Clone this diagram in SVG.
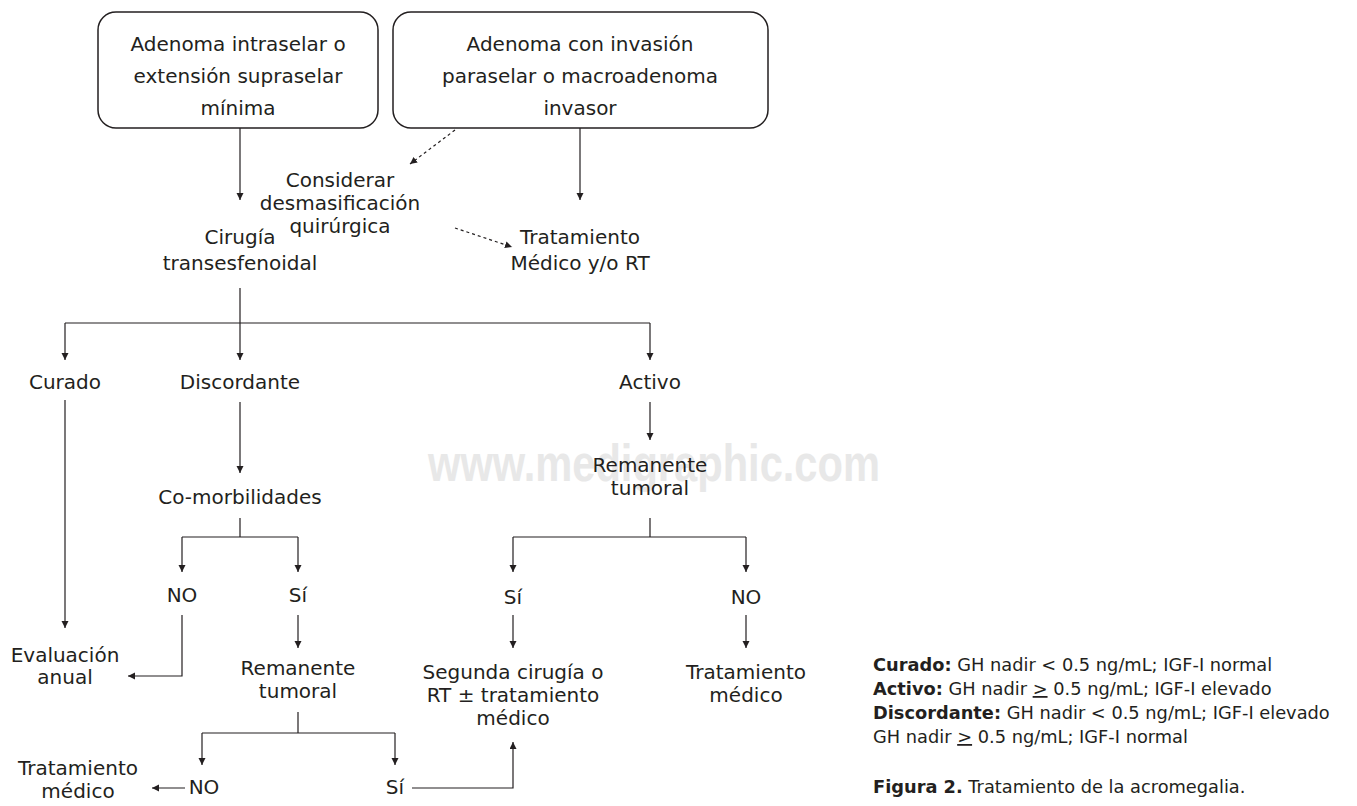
<svg xmlns="http://www.w3.org/2000/svg" width="1357" height="806" viewBox="0 0 1357 806">
<defs>
<marker id="ah" markerWidth="8" markerHeight="8" refX="7" refY="3.5" orient="auto" markerUnits="userSpaceOnUse"><path d="M0,0 L7,3.5 L0,7 z" fill="#231f20"/></marker>
<style>
.t{font-family:"DejaVu Sans","Liberation Sans",sans-serif;font-size:20px;fill:#231f20;text-anchor:middle}
.lg{font-family:"DejaVu Sans","Liberation Sans",sans-serif;font-size:17.8px;fill:#231f20}
.b{font-weight:bold}
.box{fill:#fff;stroke:#231f20;stroke-width:1.5}
.c{fill:none;stroke:#231f20;stroke-width:1.2}
.ca{fill:none;stroke:#231f20;stroke-width:1.2;marker-end:url(#ah)}
.d{fill:none;stroke:#231f20;stroke-width:1.2;stroke-dasharray:3,3;marker-end:url(#ah)}
</style>
</defs>
<rect width="1357" height="806" fill="#fff"/>
<text x="654" y="481" font-family="'Liberation Sans',Arial,sans-serif" font-weight="bold" font-size="52" fill="#e8e8e8" text-anchor="middle" textLength="452" lengthAdjust="spacingAndGlyphs">www.medigraphic.com</text>
<g id="connectors">
<path class="ca" d="M240,128 V200"/>
<path class="ca" d="M580,128 V200"/>
<path class="d" d="M455,130 L410,164"/>
<path class="d" d="M455,228 L512,247"/>
<path class="c" d="M240,288 V323 M65,323 H650"/>
<path class="ca" d="M65,323 V360"/>
<path class="ca" d="M240,323 V360"/>
<path class="ca" d="M650,323 V360"/>
<path class="ca" d="M65,400 V628"/>
<path class="ca" d="M240,402 V473"/>
<path class="c" d="M240,518 V537 M182,537 H298"/>
<path class="ca" d="M182,537 V572"/>
<path class="ca" d="M298,537 V572"/>
<path class="ca" d="M650,402 V440"/>
<path class="c" d="M650,518 V537 M513,537 H746"/>
<path class="ca" d="M513,537 V572"/>
<path class="ca" d="M746,537 V572"/>
<path class="ca" d="M182,615 V676 H128"/>
<path class="ca" d="M298,615 V648"/>
<path class="ca" d="M513,615 V648"/>
<path class="ca" d="M746,615 V648"/>
<path class="c" d="M298,712 V733 M202,733 H395"/>
<path class="ca" d="M202,733 V765"/>
<path class="ca" d="M395,733 V765"/>
<path class="ca" d="M185,788 H152"/>
<path class="ca" d="M412,788 H513 V742"/>
</g>
<g id="n-intraselar">
<rect class="box" x="98" y="12" width="280" height="116" rx="18"/>
<text class="t" x="238" y="51">Adenoma intraselar o</text>
<text class="t" x="238" y="83">extensión supraselar</text>
<text class="t" x="238" y="115">mínima</text>
</g>
<g id="n-invasion">
<rect class="box" x="393" y="12" width="375" height="116" rx="18"/>
<text class="t" x="580" y="51">Adenoma con invasión</text>
<text class="t" x="580" y="83">paraselar o macroadenoma</text>
<text class="t" x="580" y="115">invasor</text>
</g>
<g id="n-considerar">
<text class="t" x="340" y="187">Considerar</text>
<text class="t" x="340" y="210">desmasificación</text>
<text class="t" x="340" y="233">quirúrgica</text>
</g>
<g id="n-cirugia">
<text class="t" x="240" y="244">Cirugía</text>
<text class="t" x="240" y="270">transesfenoidal</text>
</g>
<g id="n-tratmed">
<text class="t" x="580" y="244">Tratamiento</text>
<text class="t" x="580" y="270">Médico y/o RT</text>
</g>
<g id="n-curado"><text class="t" x="65" y="389">Curado</text></g>
<g id="n-discordante"><text class="t" x="240" y="389">Discordante</text></g>
<g id="n-activo"><text class="t" x="650" y="389">Activo</text></g>
<g id="n-comorb"><text class="t" x="240" y="504">Co-morbilidades</text></g>
<g id="n-remanente1">
<text class="t" x="650" y="472">Remanente</text>
<text class="t" x="650" y="495">tumoral</text>
</g>
<g id="n-no1"><text class="t" x="182" y="602">NO</text></g>
<g id="n-si1"><text class="t" x="298" y="602">Sí</text></g>
<g id="n-si2"><text class="t" x="513" y="604">Sí</text></g>
<g id="n-no2"><text class="t" x="746" y="604">NO</text></g>
<g id="n-evaluacion">
<text class="t" x="65" y="662">Evaluación</text>
<text class="t" x="65" y="684">anual</text>
</g>
<g id="n-remanente2">
<text class="t" x="298" y="675">Remanente</text>
<text class="t" x="298" y="698">tumoral</text>
</g>
<g id="n-segunda">
<text class="t" x="513" y="679">Segunda cirugía o</text>
<text class="t" x="513" y="702">RT ± tratamiento</text>
<text class="t" x="513" y="725">médico</text>
</g>
<g id="n-tratmed2">
<text class="t" x="746" y="679">Tratamiento</text>
<text class="t" x="746" y="702">médico</text>
</g>
<g id="n-no3"><text class="t" x="204" y="794">NO</text></g>
<g id="n-si3"><text class="t" x="395" y="794">Sí</text></g>
<g id="n-tratmed3">
<text class="t" x="78" y="775">Tratamiento</text>
<text class="t" x="78" y="798">médico</text>
</g>
<g id="legend">
<text class="lg" x="873" y="671"><tspan class="b">Curado:</tspan> GH nadir &lt; 0.5 ng/mL; IGF-I normal</text>
<text class="lg" x="873" y="695"><tspan class="b">Activo:</tspan> GH nadir <tspan text-decoration="underline">&gt;</tspan> 0.5 ng/mL; IGF-I elevado</text>
<text class="lg" x="873" y="719"><tspan class="b">Discordante:</tspan> GH nadir &lt; 0.5 ng/mL; IGF-I elevado</text>
<text class="lg" x="873" y="743">GH nadir <tspan text-decoration="underline">&gt;</tspan> 0.5 ng/mL; IGF-I normal</text>
<text class="lg" x="873" y="793"><tspan class="b">Figura 2.</tspan> Tratamiento de la acromegalia.</text>
</g>
</svg>
